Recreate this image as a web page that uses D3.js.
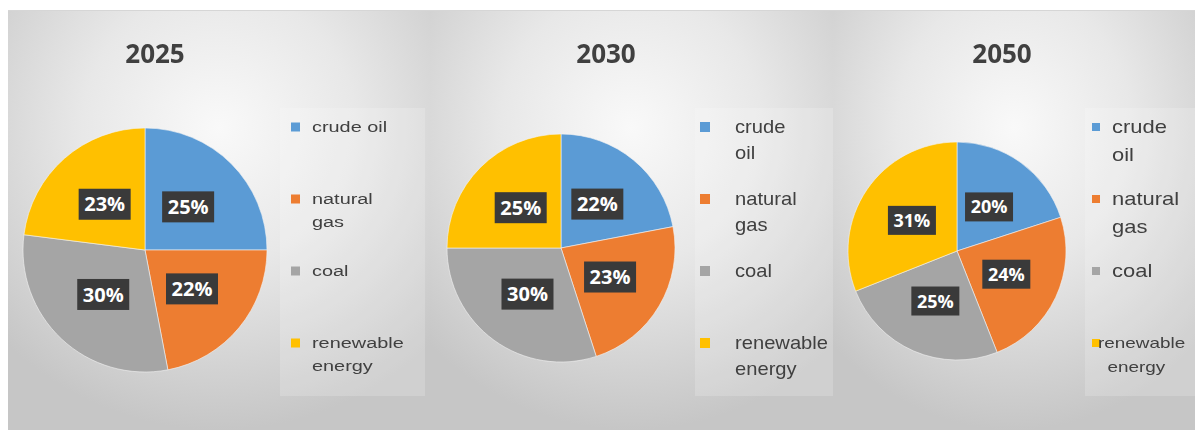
<!DOCTYPE html>
<html>
<head>
<meta charset="utf-8">
<script src="https://cdn.jsdelivr.net/npm/d3@7"></script>
<style>
  body { margin: 0; background: #fff; }
  svg { display: block; filter: blur(0.4px); }
</style>
</head>
<body>
<div id="chart"></div>
<script>
// data
const years = ["2025", "2030", "2050"];
const categories = ["crude oil", "natural gas", "coal", "renewable energy"];
const share2025 = [25, 22, 30, 23];
const share2030 = [22, 23, 30, 25];
const share2050 = [20, 24, 25, 31];
const colors = ["#5b9bd5", "#ed7d31", "#a5a5a5", "#ffc000"];

// layout of the three panels
const panels = [
  { year: years[0], values: share2025, x0: 8, x1: 430, cx: 145, cy: 250, r: 122, titleX: 155,
    lgX: 280, lgW: 145, markX: 291, markS: 9, textX: 312, font: 14, stretch: 1.42, lineH: 23, wrap: 85, lab: 20, boxW: 52, boxH: 31 },
  { year: years[1], values: share2030, x0: 430, x1: 833, cx: 561, cy: 248, r: 114, titleX: 606,
    lgX: 695, lgW: 138, markX: 700, markS: 10, textX: 735, font: 18, stretch: 1.12, lineH: 26, wrap: 75, lab: 20, boxW: 52, boxH: 31 },
  { year: years[2], values: share2050, x0: 833, x1: 1195, cx: 957, cy: 251, r: 109, titleX: 1002,
    lgX: 1085, lgW: 110, markX: 1092, markS: 8, textX: 1112, font: 18, stretch: 1.22, lineH: 28, wrap: 70, lab: 18, boxW: 48, boxH: 29 }
];

const W = 1195, H = 430;
const svg = d3.select("#chart").append("svg")
  .attr("width", W).attr("height", H);

const defs = svg.append("defs");
const grad = defs.append("radialGradient")
  .attr("id", "bg").attr("cx", "50%").attr("cy", "28%").attr("r", "72%");
grad.append("stop").attr("offset", "0%").attr("stop-color", "#f9f9f9");
grad.append("stop").attr("offset", "45%").attr("stop-color", "#e8e8e8");
grad.append("stop").attr("offset", "100%").attr("stop-color", "#c6c6c6");

const pie = d3.pie().sort(null).value(d => d);
const itemY = d3.scalePoint().domain(categories).range([127, 343]);

panels.forEach(p => {
  const g = svg.append("g");

  g.append("rect")
    .attr("x", p.x0).attr("y", 10)
    .attr("width", p.x1 - p.x0).attr("height", H - 10)
    .attr("fill", "url(#bg)");
  g.append("line")
    .attr("x1", p.x0).attr("x2", p.x1).attr("y1", 10.5).attr("y2", 10.5)
    .attr("stroke", "#d6d6d6");

  // title
  g.append("text")
    .attr("x", p.titleX).attr("y", 63)
    .attr("text-anchor", "middle")
    .attr("font-family", "Open Sans, sans-serif")
    .attr("font-weight", "bold")
    .attr("font-size", 26)
    .attr("fill", "#404040")
    .text(p.year);

  // pie
  const arc = d3.arc().innerRadius(0).outerRadius(p.r);
  const arcs = pie(p.values);
  const pg = g.append("g").attr("transform", `translate(${p.cx},${p.cy})`);
  pg.selectAll("path").data(arcs).enter()
    .append("path")
    .attr("d", arc)
    .attr("fill", (d, i) => colors[i])
    .attr("stroke", "#f4f4f4")
    .attr("stroke-width", 0.6);

  const lab = pg.selectAll("g.lab").data(arcs).enter()
    .append("g").attr("class", "lab")
    .attr("transform", d => `translate(${arc.centroid(d)})`);
  lab.append("rect")
    .attr("x", -p.boxW / 2).attr("y", -p.boxH / 2)
    .attr("width", p.boxW).attr("height", p.boxH)
    .attr("fill", "#3a3a3a");
  lab.append("text")
    .attr("text-anchor", "middle")
    .attr("dy", "0.36em")
    .attr("font-family", "Open Sans, sans-serif")
    .attr("font-weight", "bold")
    .attr("font-size", p.lab)
    .attr("fill", "#fff")
    .text(d => d.data + "%");

  // legend
  g.append("rect")
    .attr("x", p.lgX).attr("y", 108)
    .attr("width", p.lgW).attr("height", 288)
    .attr("fill", "#fff").attr("fill-opacity", 0.18);

  categories.forEach((c, i) => {
    const y = itemY(c);
    g.append("rect")
      .attr("x", p.markX).attr("y", y - p.markS / 2)
      .attr("width", p.markS).attr("height", p.markS)
      .attr("fill", colors[i]);

    // wrap words to the legend width
    const words = c.split(" ");
    const lines = [];
    let cur = "";
    const probe = g.append("text")
      .attr("font-family", "Liberation Sans, Arial, sans-serif")
      .attr("font-size", p.font);
    words.forEach(w => {
      const t = cur ? cur + " " + w : w;
      probe.text(t);
      if (cur && probe.node().getComputedTextLength() * p.stretch > p.wrap) {
        lines.push(cur);
        cur = w;
      } else cur = t;
    });
    lines.push(cur);
    probe.remove();

    const small = (p.year === "2050" && i === 3);
    const tx = small ? p.textX - 14 : p.textX;
    const t = g.append("text")
      .attr("transform", `translate(${tx},${y}) scale(${small ? 1.35 : p.stretch},1)`)
      .attr("font-family", "Liberation Sans, Arial, sans-serif")
      .attr("font-size", small ? 14 : p.font)
      .attr("fill", "#404040");
    lines.forEach((ln, k) => {
      t.append("tspan")
        .attr("x", small && k > 0 ? 7 : 0)
        .attr("y", k * (small ? 24 : p.lineH))
        .attr("dy", "0.35em")
        .text(ln);
    });
  });
});
</script>
</body>
</html>
